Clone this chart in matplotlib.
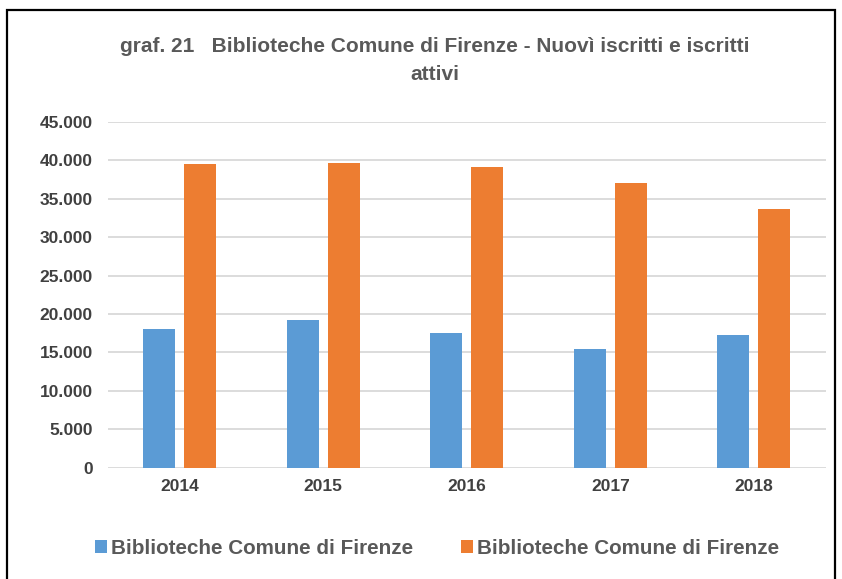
import matplotlib
matplotlib.use("Agg")
import matplotlib.pyplot as plt
from matplotlib.patches import Rectangle
import numpy as np

years = ["2014", "2015", "2016", "2017", "2018"]
series_names = ["Biblioteche Comune di Firenze", "Biblioteche Comune di Firenze"]
nuovi = [18100, 19200, 17500, 15400, 17200]
attivi = [39500, 39700, 39100, 37100, 33650]
yticks = [0, 5000, 10000, 15000, 20000, 25000, 30000, 35000, 40000, 45000]
ytick_labels = ["0", "5.000", "10.000", "15.000", "20.000", "25.000", "30.000", "35.000", "40.000", "45.000"]

W, H = 842, 579
fig = plt.figure(figsize=(W / 100, H / 100), dpi=100)
plt.rcParams['font.family'] = ['Liberation Sans', 'DejaVu Sans']

ax = fig.add_axes([108 / W, 1 - 467.5 / H, (825.5 - 108) / W, (467.5 - 122) / H])

blue = "#5b9bd5"
orange = "#ed7d31"
x = np.arange(len(years))
bw = 0.223
off = 0.143
ax.bar(x - off, nuovi, bw, color=blue, label=series_names[0], zorder=3)
ax.bar(x + off, attivi, bw, color=orange, label=series_names[1], zorder=3)

ax.set_xlim(-0.5, len(years) - 0.5)
ax.set_ylim(0, 45000)
ax.set_yticks(yticks)
ax.set_yticklabels(ytick_labels, fontsize=12.5, fontweight='bold', color="#404040")
ax.set_xticks(x)
ax.set_xticklabels(years, fontsize=12.5, fontweight='bold', color="#404040")
ax.tick_params(axis='y', length=0, pad=11)
ax.tick_params(axis='x', length=0, pad=8)
ax.grid(axis='y', color="#d9d9d9", linewidth=1.3, zorder=0)
for s in ax.spines.values():
    s.set_visible(False)

fig.text(435 / W, 1 - 46 / H, "graf. 21   Biblioteche Comune di Firenze - Nuovì iscritti e iscritti",
         ha='center', va='center', fontsize=15, fontweight='bold', color="#595959")
fig.text(435 / W, 1 - 75 / H, "attivi",
         ha='center', va='center', fontsize=15, fontweight='bold', color="#595959")

leg = fig.legend(loc='center', bbox_to_anchor=(437 / W, 1 - 548 / H), ncol=2, frameon=False,
                 prop={'size': 14.9, 'weight': 'bold'}, handlelength=0.6, handleheight=0.6,
                 handletextpad=0.2, columnspacing=2.3)
for t in leg.get_texts():
    t.set_color("#595959")

fig.patches.append(Rectangle((7 / W, -0.1), (835 - 7) / W, 1.1 - 10 / H, transform=fig.transFigure,
                             fill=False, edgecolor="black", linewidth=1.6))

fig.savefig("out.png", dpi=100, facecolor="white")
